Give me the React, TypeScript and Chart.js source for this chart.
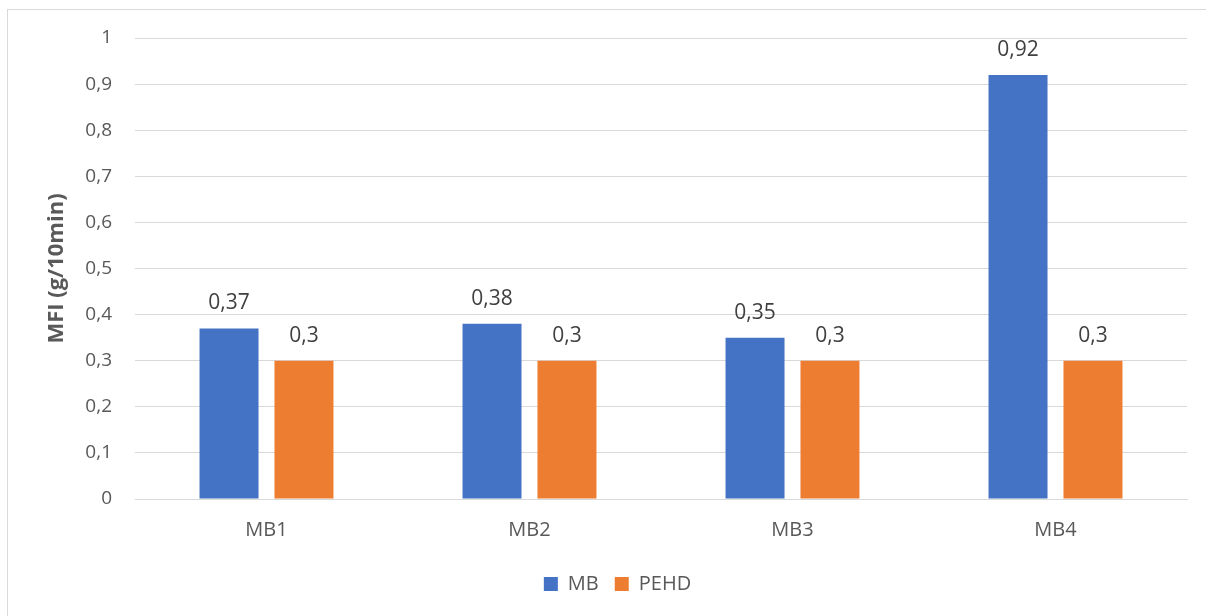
import React, { useEffect, useRef } from "react";
import { Chart, registerables } from "chart.js";

Chart.register(...registerables);

// Melt flow index per sample
const categories = ["MB1", "MB2", "MB3", "MB4"];
const mbValues = [0.37, 0.38, 0.35, 0.92];
const pehdValues = [0.3, 0.3, 0.3, 0.3];
const seriesNames = ["MB", "PEHD"];
const axisTitle = "MFI (g/10min)";

const BLUE = "#4472C4";
const ORANGE = "#ED7D31";
const GRID = "#d9d9d9";
const TEXT = "#595959";
const FONT = "'Open Sans', 'DejaVu Sans', sans-serif";

const fmt = (v: number) => String(Number(v.toFixed(2))).replace(".", ",");

// Writes each bar's value above it
const valueLabels = {
  id: "valueLabels",
  afterDatasetsDraw(chart: any) {
    const ctx = chart.ctx;
    ctx.save();
    ctx.font = `21px ${FONT}`;
    ctx.fillStyle = "#404040";
    ctx.textAlign = "center";
    ctx.textBaseline = "middle";
    chart.data.datasets.forEach((ds: any, di: number) => {
      const meta = chart.getDatasetMeta(di);
      meta.data.forEach((el: any, i: number) => {
        ctx.fillText(fmt(ds.data[i]), el.x, el.y - 25);
      });
    });
    ctx.restore();
  },
};

export default function App() {
  const ref = useRef<HTMLCanvasElement>(null);

  useEffect(() => {
    if (!ref.current) return;
    const chart = new Chart(ref.current, {
      type: "bar",
      data: {
        labels: categories,
        datasets: [
          { label: seriesNames[0], data: mbValues, backgroundColor: BLUE },
          { label: seriesNames[1], data: pehdValues, backgroundColor: ORANGE },
        ],
      },
      options: {
        responsive: false,
        animation: false,
        layout: { padding: { left: 40, top: 28, right: 19, bottom: 12 } },
        datasets: {
          bar: { categoryPercentage: 0.57, barPercentage: 0.787 },
        },
        scales: {
          x: {
            grid: { display: false },
            border: { color: GRID },
            ticks: {
              color: TEXT,
              font: { family: FONT, size: 20 },
              padding: 11,
            },
            afterFit: (s: any) => {
              s.height = 59;
            },
          },
          y: {
            min: 0,
            max: 1,
            grid: { color: GRID, drawTicks: false },
            border: { display: false },
            ticks: {
              stepSize: 0.1,
              color: TEXT,
              font: { family: FONT, size: 19 },
              padding: 23,
              callback: (v: any) => fmt(Number(v)),
            },
            title: {
              display: true,
              text: axisTitle,
              color: TEXT,
              font: { family: FONT, size: 22, weight: "bold" },
              padding: { top: -4, bottom: 0 },
            },
            afterFit: (s: any) => {
              s.width = 87;
              s.paddingTop = 0;
              s.paddingBottom = 0;
            },
          },
        },
        plugins: {
          legend: {
            position: "bottom",
            labels: {
              color: TEXT,
              font: { family: FONT, size: 20 },
              boxWidth: 14,
              boxHeight: 14,
              padding: 16,
            },
          },
          tooltip: { enabled: false },
        },
      },
      plugins: [valueLabels],
    });
    return () => chart.destroy();
  }, []);

  return (
    <div
      style={{
        position: "absolute",
        left: 7,
        top: 9,
        borderLeft: `1px solid ${GRID}`,
        borderTop: `1px solid ${GRID}`,
        background: "#fff",
      }}
    >
      <canvas ref={ref} width={1198} height={606} style={{ display: "block" }} />
    </div>
  );
}
